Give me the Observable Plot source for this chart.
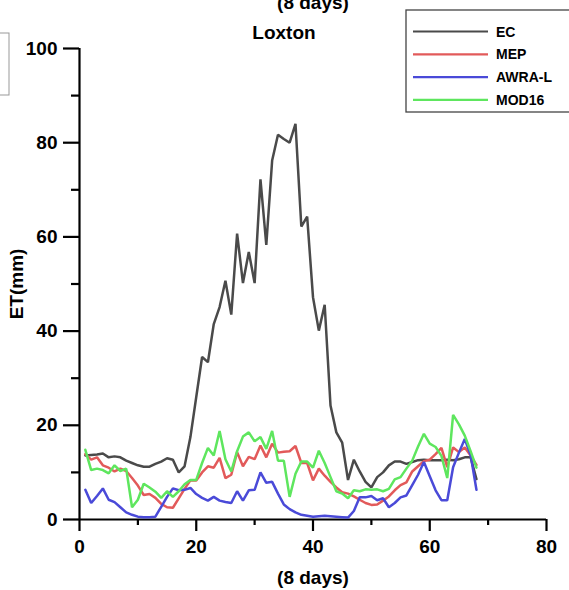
<!DOCTYPE html>
<html><head><meta charset="utf-8">
<script src="https://cdn.jsdelivr.net/npm/d3@7"></script>
<script src="https://cdn.jsdelivr.net/npm/@observablehq/plot@0.6"></script>
<style>
body{margin:0;background:#fff}
#chart{position:relative;width:569px;height:590px;overflow:hidden}
</style>
</head><body><div id="chart"></div>
<script>
// 8-day period index
const periods = [1,2,3,4,5,6,7,8,9,10,11,12,13,14,15,16,17,18,19,20,21,22,23,24,25,26,27,28,29,30,31,32,33,34,35,36,37,38,39,40,41,42,43,44,45,46,47,48,49,50,51,52,53,54,55,56,57,58,59,60,61,62,63,64,65,66,67,68];

const ec = [13.6,13.7,13.8,14.0,13.2,13.4,13.2,12.5,12.0,11.5,11.2,11.2,11.8,12.3,13.0,12.7,10.0,11.3,17.5,26.0,
  34.5,33.4,41.5,45.1,50.7,43.5,60.7,50.2,56.8,50.2,72.2,58.3,76.2,81.7,80.8,80.0,84.0,62.2,64.3,47.2,
  40.1,45.6,24.2,18.5,16.3,8.4,12.7,10.2,8.0,6.8,9.0,10.0,11.5,12.3,12.3,11.8,12.2,12.6,12.7,12.6,
  12.6,12.6,12.7,12.6,12.8,13.2,13.2,8.6];

const mep = [13.9,12.7,13.2,11.5,11.0,10.2,10.8,10.3,8.8,7.2,5.2,5.4,4.6,3.3,2.6,2.5,4.5,6.5,8.3,8.3,
  10.0,11.3,11.0,13.1,8.8,9.5,14.3,11.3,13.3,12.8,15.7,13.2,16.1,14.2,14.4,14.5,15.6,12.0,12.0,8.3,
  10.8,9.3,8.0,6.8,5.8,5.5,4.9,4.2,3.5,3.1,3.2,4.0,4.9,6.2,7.3,7.9,10.2,11.3,12.4,12.7,
  13.9,15.2,11.1,15.3,14.3,15.3,13.6,11.6];

const awra = [6.3,3.5,5.0,6.6,4.2,3.7,2.6,1.5,1.0,0.6,0.5,0.5,0.6,2.7,4.8,6.6,6.2,6.3,6.7,5.4,
  4.6,4.0,4.8,4.0,3.7,3.5,6.0,4.0,6.2,6.3,10.0,7.8,8.0,5.5,3.2,2.2,1.5,1.0,0.8,0.6,
  0.7,0.8,0.7,0.6,0.5,0.4,1.8,4.7,4.7,5.0,4.1,4.5,2.6,3.5,4.7,5.1,7.3,9.5,12.2,9.2,
  6.2,4.1,4.1,11.1,14.2,17.1,13.7,6.3];

const mod16 = [14.8,10.5,10.8,10.5,9.8,11.5,10.3,10.8,2.6,4.2,7.6,6.8,5.9,4.6,6.0,4.8,6.0,7.5,8.4,8.4,
  12.0,15.2,13.6,18.8,12.8,10.2,14.5,17.6,18.5,16.6,17.5,15.0,18.8,12.5,12.5,4.8,9.7,12.3,12.3,11.0,
  14.6,12.0,9.0,6.0,5.5,4.5,6.2,6.0,6.4,6.3,6.4,6.0,6.5,8.5,9.0,10.8,12.5,15.5,18.2,16.1,
  15.4,13.5,8.8,22.2,20.2,17.8,14.5,11.0];

const seriesNames = ["EC","MEP","AWRA-L","MOD16"];
const seriesColors = ["#4a4a4a","#e25a5a","#4a4ad8","#5ee65e"];
const xMajorTicks = [0,20,40,60,80];
const xMinorTicks = [10,30,50,70];
const yMajorTicks = [0,20,40,60,80,100];
const yMinorTicks = [10,30,50,70,90];
const titleText = "Loxton";
const xLabel = "(8 days)";
const yLabel = "ET(mm)";

const seriesValues = [ec, mep, awra, mod16];
const rows = [];
seriesNames.forEach((name, k) => seriesValues[k].forEach((v, i) => rows.push({series: name, period: periods[i], et: v})));

const axisStroke = 2.2;
const plot = Plot.plot({
  width: 569, height: 590,
  marginLeft: 79, marginRight: 23, marginTop: 48, marginBottom: 71,
  x: {domain: [0, 80]},
  y: {domain: [0, 100]},
  color: {domain: seriesNames, range: seriesColors},
  style: {fontFamily: "'Liberation Sans', Arial, sans-serif", fontSize: "19px", fontWeight: "bold", color: "#000", background: "#fff"},
  marks: [
    Plot.axisY(yMajorTicks, {tickSize: 16, tickPadding: 6, strokeWidth: axisStroke, label: yLabel, labelAnchor: "center", labelArrow: "none", labelOffset: 70}),
    Plot.axisY(yMinorTicks, {tickSize: 8, strokeWidth: axisStroke, tickFormat: () => "", label: null}),
    Plot.axisX(xMajorTicks, {tickSize: 12, tickPadding: 8, strokeWidth: axisStroke, label: xLabel, labelAnchor: "center", labelArrow: "none", labelOffset: 64}),
    Plot.axisX(xMinorTicks, {tickSize: 6, strokeWidth: axisStroke, tickFormat: () => "", label: null}),
    Plot.ruleX([0], {stroke: "#000", strokeWidth: axisStroke}),
    Plot.ruleY([0], {stroke: "#000", strokeWidth: axisStroke}),
    Plot.line(rows, {x: "period", y: "et", z: "series", stroke: "series", strokeWidth: 2.5, strokeLinejoin: "miter"}),
    Plot.text([titleText], {text: d => d, frameAnchor: "top", dx: -29, dy: -23, fontSize: 19, fontWeight: "bold"}),
    Plot.text([xLabel], {text: d => d, frameAnchor: "top", dx: 0, dy: -53, fontSize: 19, fontWeight: "bold"})
  ]
});

const svg = d3.select(plot);
// fragment of a neighbouring panel's box at the top-left edge
svg.append("rect").attr("x", -12).attr("y", 33).attr("width", 21).attr("height", 62)
  .attr("fill", "none").attr("stroke", "#999").attr("stroke-width", 1);

// Legend box (top right, partly cut by the image edge)
const lg = svg.append("g").attr("font-family", "'Liberation Sans', Arial, sans-serif")
  .attr("font-weight", "bold").attr("font-size", 14).attr("text-anchor", "start");
lg.append("rect").attr("x", 406).attr("y", 10).attr("width", 200).attr("height", 102)
  .attr("fill", "#fff").attr("stroke", "#444").attr("stroke-width", 1.3);
seriesNames.forEach((name, i) => {
  const yy = 31.5 + i * 22.8;
  lg.append("line").attr("x1", 413).attr("x2", 488).attr("y1", yy).attr("y2", yy)
    .attr("stroke", seriesColors[i]).attr("stroke-width", 2.2);
  lg.append("text").attr("x", 496).attr("y", yy).attr("dy", "0.36em").attr("text-anchor", "start")
    .attr("fill", "#000").text(name);
});

document.getElementById("chart").appendChild(plot);
</script>
</body></html>
